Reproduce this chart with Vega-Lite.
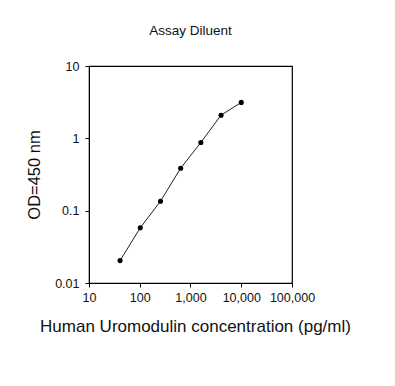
{
  "$schema": "https://vega.github.io/schema/vega-lite/v6.json",
  "autosize": "none",
  "width": 203,
  "height": 217,
  "padding": {"left": 89, "top": 66, "right": 103, "bottom": 103},
  "background": "white",
  "title": {"text": "Assay Diluent", "font": "Liberation Sans", "fontSize": 13.5, "fontWeight": "normal", "color": "#111", "anchor": "middle", "offset": 23},
  "data": {"values": [
    {"conc": 40.96, "od": 0.0204},
    {"conc": 102.4, "od": 0.058},
    {"conc": 256, "od": 0.135},
    {"conc": 640, "od": 0.386},
    {"conc": 1600, "od": 0.877},
    {"conc": 4000, "od": 2.09},
    {"conc": 10000, "od": 3.14}
  ]},
  "encoding": {
    "x": {"field": "conc", "type": "quantitative",
      "scale": {"type": "log", "domain": [10, 100000], "nice": false},
      "axis": {"title": "Human Uromodulin concentration (pg/ml)", "values": [10, 100, 1000, 10000, 100000], "format": ",", "grid": false,
        "tickSize": 4, "labelPadding": 4, "titlePadding": 15, "titleFontSize": 17, "titleX": 106}},
    "y": {"field": "od", "type": "quantitative",
      "scale": {"type": "log", "domain": [0.01, 10], "nice": false},
      "axis": {"title": "OD=450 nm", "values": [0.01, 0.1, 1, 10], "format": "~g", "grid": false,
        "tickSize": 4, "labelPadding": 6, "titlePadding": 12, "titleFontSize": 16.5}}
  },
  "layer": [
    {"mark": {"type": "line", "color": "#222", "strokeWidth": 1}},
    {"mark": {"type": "point", "filled": true, "color": "black", "opacity": 1, "size": 26}}
  ],
  "config": {
    "view": {"stroke": "black", "strokeWidth": 1.2},
    "axis": {"domainColor": "black", "tickColor": "black", "labelColor": "#111", "titleColor": "#111",
      "labelFont": "Liberation Sans", "titleFont": "Liberation Sans", "labelFontSize": 12.5, "titleFontWeight": "normal", "labelFlush": false, "labelOverlap": false}
  }
}
